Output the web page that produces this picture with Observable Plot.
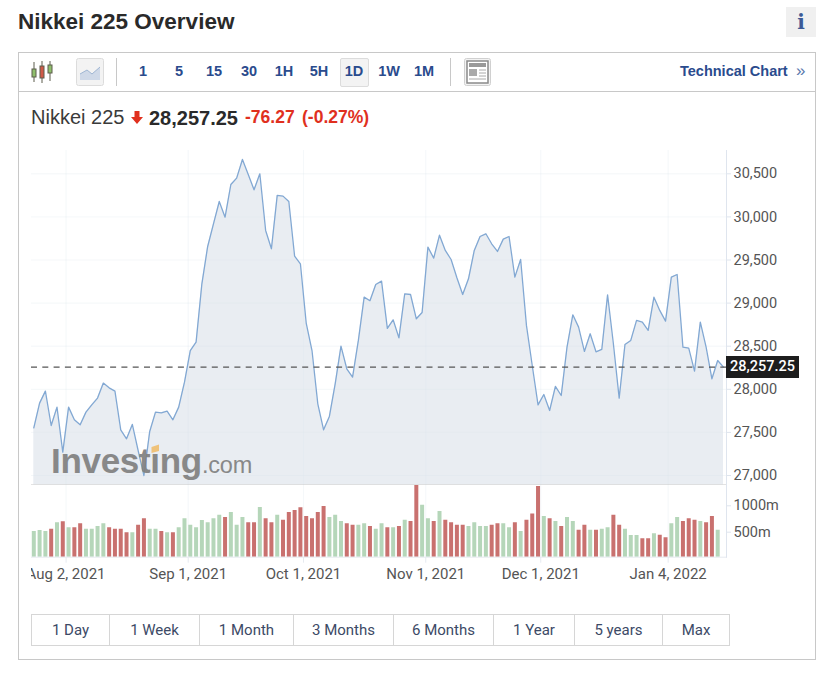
<!DOCTYPE html>
<html><head><meta charset="utf-8">
<script src="https://cdn.jsdelivr.net/npm/d3@7"></script>
<script src="https://cdn.jsdelivr.net/npm/@observablehq/plot@0.6"></script>
<style>
html,body{margin:0;padding:0;background:#fff;width:827px;height:673px;overflow:hidden}
.a{position:absolute}
#page{position:relative;width:827px;height:673px;font-family:"Liberation Sans",Arial,sans-serif;color:#2a2a2a}
.tb{position:absolute;top:63px;font-weight:700;font-size:14.5px;color:#2a4b8d;transform:translateX(-50%);line-height:17px}
svg{display:block}
.btn{position:absolute;top:615px;height:30px;line-height:31px;text-align:center;font:15px/31px Roboto,sans-serif;color:#3c4a66;box-sizing:border-box;border-left:1px solid #d6d6d6}
</style></head><body>
<div id="page">
<div class="a" style="left:18px;top:8px;font-size:22.5px;font-weight:700;line-height:27px;color:#2a2a2a">Nikkei 225 Overview</div>
<div class="a" style="left:786px;top:7px;width:30px;height:30px;background:#f0f0f0;text-align:center;font:700 20px/30px 'DejaVu Serif','Liberation Serif',serif;color:#3c5a96">i</div>
<div class="a" style="left:18px;top:52px;width:796px;height:606px;border:1px solid #c8c8c8"></div>
<div class="a" style="left:19px;top:91px;width:796px;height:1px;background:#c8c8c8"></div>
<svg class="a" style="left:31px;top:60px" width="24" height="24"><g stroke="#5c5c4c" stroke-width="1"><path d="M3 2V22M11 1V23M19 1V21"/></g><rect x="1" y="9" width="4" height="8" fill="#8fbf6c" stroke="#5c5c4c"/><rect x="9" y="6" width="4" height="12" fill="#d05a48" stroke="#5c5c4c"/><rect x="17" y="5" width="4" height="8" fill="#8fbf6c" stroke="#5c5c4c"/></svg>
<svg class="a" style="left:76px;top:58px" width="28" height="28"><rect x=".5" y=".5" width="27" height="27" rx="2" fill="#f3f3f3" stroke="#dcdcdc"/><path d="M4 22V16L11 12L16 16L24 9V22Z" fill="#cfd9e8"/><path d="M4 16L11 12L16 16L24 9" fill="none" stroke="#9fb6d3"/></svg>
<div class="a" style="left:116px;top:58px;width:1px;height:28px;background:#c8c8c8"></div>
<div class="a" style="left:340px;top:58px;width:27px;height:27px;background:#f3f3f3;border:1px solid #dcdcdc;border-radius:2px"></div>
<div class="a" style="left:450px;top:58px;width:1px;height:28px;background:#c8c8c8"></div>
<svg class="a" style="left:464px;top:58px" width="27" height="28"><rect x=".5" y=".5" width="26" height="27" rx="2" fill="#f3f3f3" stroke="#d0d0d0"/><rect x="3" y="3" width="21" height="22" fill="#fff" stroke="#8a8a8a" stroke-width="1.5"/><rect x="5" y="5" width="17" height="4" fill="#999"/><rect x="5" y="11" width="8" height="7" fill="#aaa"/><path d="M15 12H22M15 15H22M15 18H22M5 21H22" stroke="#aaa" stroke-width="1"/></svg>
<div id="tools"></div>
<div class="a" style="left:680px;top:63px;font-weight:700;font-size:14.5px;line-height:17px;color:#2a4b8d">Technical Chart</div>
<div class="a" style="left:796px;top:61px;font-size:17px;line-height:20px;color:#5a78ac">»</div>
<div class="a" style="left:31px;top:106px;font:20px/23px 'Liberation Sans',Arial,sans-serif;color:#3a3a3a">Nikkei 225</div>
<svg class="a" style="left:131px;top:111px" width="12" height="13"><path d="M3.5 0H8.5V6H12L6 13L0 6H3.5Z" fill="#e0301e"/></svg>
<div class="a" style="left:149px;top:106px;font:700 20px/24px 'Liberation Sans',Arial,sans-serif;color:#2a2a2a">28,257.25</div>
<div class="a" style="left:245px;top:107px;font:700 17.5px/21px 'Liberation Sans',Arial,sans-serif;color:#e0301e">-76.27</div>
<div class="a" style="left:302px;top:107px;font:700 17.5px/21px 'Liberation Sans',Arial,sans-serif;color:#e0301e">(-0.27%)</div>
<div id="price" class="a" style="left:31px;top:150px"></div>
<div id="volume" class="a" style="left:31px;top:485px"></div>
<div class="a" style="left:51px;top:435px;font:700 35px/52px 'Liberation Sans',Arial,sans-serif;letter-spacing:-.3px;color:#808080;opacity:.92;white-space:nowrap">Investing<span style="font:400 23.5px/52px 'Liberation Sans',Arial,sans-serif;letter-spacing:-.2px">.com</span></div>
<svg class="a" style="left:151px;top:444px" width="9" height="10"><path d="M.5 3L8 .5V7L.5 9Z" fill="#efc27a"/></svg>
<div class="a" style="left:726px;top:356px;width:73px;height:22px;background:#1d1d1d;color:#fff;text-align:center;font:500 14.5px/22px Roboto,sans-serif">28,257.25</div>
<div id="btns"></div>
</div>
<script>
const priceValues = [27553,27840,27979,27580,27793,27271,27793,27646,27588,27735,
27820,27898,28072,28017,27979,27530,27426,27592,27290,27000,
27511,27735,27727,27747,27646,27793,28083,28450,28547,29224,
29657,29920,30179,29997,30376,30450,30666,30492,30314,30500,
29843,29630,30249,30241,30179,29545,29456,28768,28450,27832,
27530,27685,28064,28501,28238,28141,28567,29069,29027,29216,
29255,28706,28806,28597,29108,29100,28818,28891,29649,29522,
29788,29611,29506,29294,29100,29282,29611,29773,29804,29688,
29599,29742,29773,29301,29506,28741,28276,27820,27940,27754,
28033,27928,28489,28864,28721,28439,28644,28435,28462,29096,
28528,27898,28520,28567,28799,28779,28683,29069,28915,28791,
29301,29332,28489,28478,28211,28779,28489,28122,28334,28257.25];
const volumeValues = [513,532,513,557,677,696,582,582,658,557,
557,608,658,582,557,557,488,488,633,753,
557,557,513,488,488,582,753,633,582,721,
677,753,822,778,873,633,778,677,677,967,
753,677,822,727,873,911,961,797,753,873,
986,778,822,702,658,633,633,658,608,557,
658,582,582,608,727,702,1390,1012,753,702,
892,727,677,633,633,608,677,608,608,633,
658,658,582,677,513,727,847,1365,797,753,
702,608,778,702,538,633,538,538,557,582,
822,633,557,437,437,374,374,469,444,393,
658,778,702,753,727,702,677,797,538];
const volumeSides = ("GGGRGRGRRG"+"GGGRRRRGRR"+"GGRGRGGGGG"+"GGGRGGGRRG"+"RRGRRRRRRR"+"RGGGRRGGRG"+"GRGRGRRGGR"+"GRRRRGGGGR"+"RGGRGRRRGR"+"GRGGRRGRGG"+"RRGGGRRGRR"+"GGRRRGRRG").split("");
const dateTicks = [5.57,26.64,46.53,67.63,87.47,109.45];
const dateLabels = ["Aug 2, 2021","Sep 1, 2021","Oct 1, 2021","Nov 1, 2021","Dec 1, 2021","Jan 4, 2022"];
const priceTicks = [27000,27500,28000,28500,29000,29500,30000,30500];
const volumeTicks = [500,1000];
const intervals = [["1",143],["5",179],["15",214],["30",249],["1H",284],["5H",319],["1D",354],["1W",389],["1M",424]];
const ranges = [["1 Day",31,78],["1 Week",109,90],["1 Month",199,94],["3 Months",293,100],["6 Months",393,100],["1 Year",493,81],["5 years",574,88],["Max",662,67]];
const lastPrice = priceValues[priceValues.length-1];
const priceBase = 26890;

const tools = document.getElementById("tools");
intervals.forEach(([t,x])=>{const d=document.createElement("div");d.className="tb";d.style.left=x+"px";d.textContent=t;tools.appendChild(d);});
const btns = document.getElementById("btns");
ranges.forEach(([t,x,w],i)=>{const d=document.createElement("div");d.className="btn";d.style.left=x+"px";d.style.width=w+"px";d.textContent=t;btns.appendChild(d);});
const frame=document.createElement("div");frame.className="a";frame.style.cssText="left:31px;top:614px;width:697px;height:30px;border:1px solid #d6d6d6";btns.appendChild(frame);

const xScale = {domain:[0,119],range:[2.3,692]};
const priceTable = priceValues.map((p,i)=>({i,p}));
const volumeTable = volumeValues.map((v,i)=>({i,v,s:volumeSides[i]}));
const gridColor = "#dbe3ec";

document.getElementById("price").appendChild(Plot.plot({
  width:770,height:335,marginLeft:0,marginRight:75,marginTop:0,marginBottom:0,
  style:{fontFamily:"Roboto,sans-serif",background:"transparent",overflow:"hidden"},
  x:{...xScale,axis:null},
  y:{domain:[27000,30500],range:[325,23.3],axis:null},
  marks:[
    Plot.areaY(priceTable,{x:"i",y1:priceBase,y2:"p",fill:"#e9edf2"}),
    Plot.ruleY(priceTicks,{stroke:gridColor,strokeOpacity:.3}),
    Plot.ruleX(dateTicks,{stroke:gridColor,strokeOpacity:.3}),
    Plot.lineY(priceTable,{x:"i",y:"p",stroke:"#82a8d3",strokeWidth:1.3}),
    Plot.ruleY([lastPrice],{stroke:"#555",strokeDasharray:"6,5.3",strokeWidth:1.2}),
    Plot.ruleY([priceBase],{stroke:"#c8c8c8",strokeWidth:1.2}),
    Plot.axisY(priceTicks,{anchor:"right",label:null,tickSize:4,tickPadding:3,tickFormat:d3.format(","),fontSize:14.5,fill:"#555",stroke:"#dfe5ee"}),
    Plot.frame({anchor:"right",stroke:"#dfe5ee"})
  ]
}));

document.getElementById("volume").appendChild(Plot.plot({
  width:770,height:105,marginLeft:0,marginRight:75,marginTop:0,marginBottom:33.3,
  style:{fontFamily:"Roboto,sans-serif",background:"transparent",overflow:"hidden"},
  x:{...xScale,axis:null},
  y:{domain:[0,1000],range:[73.1,20.3],axis:null},
  marks:[
    Plot.ruleX(dateTicks,{stroke:gridColor,strokeOpacity:.3}),
    Plot.ruleX(volumeTable,{x:"i",y1:0,y2:"v",strokeWidth:4,stroke:d=>d.s==="G"?"#b5d6b9":"#c9716f",clip:true}),
    Plot.frame({anchor:"bottom",stroke:"#e6eaf0"}),
    Plot.frame({anchor:"right",stroke:"#dfe5ee"}),
    Plot.axisX(dateTicks,{anchor:"bottom",label:null,tickSize:6,tickPadding:5,fontSize:15,fill:"#555",stroke:"#e6eaf0",tickFormat:(d)=>dateLabels[dateTicks.indexOf(d)]}),
    Plot.axisY(volumeTicks,{anchor:"right",label:null,tickSize:4,tickPadding:3,tickFormat:d=>d+"m",fontSize:14.5,fill:"#555",stroke:"#dfe5ee"})
  ]
}));
</script>
</body></html>
